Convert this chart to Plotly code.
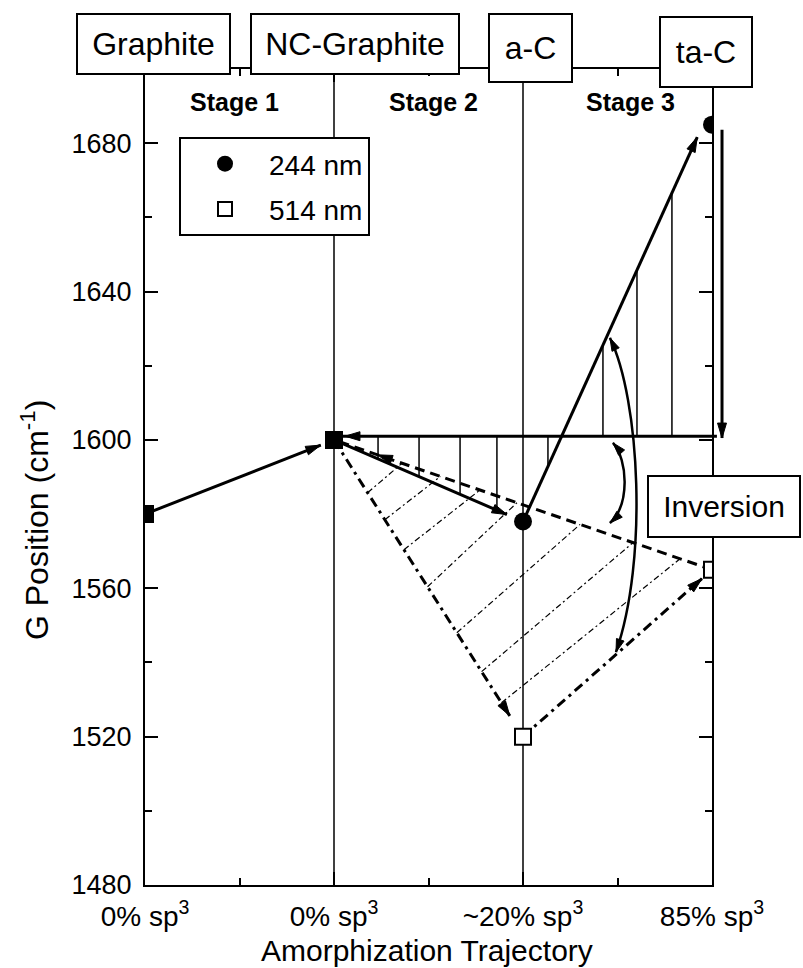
import numpy as np
import plotly.graph_objects as go

# ---------------- data ----------------
stage_pos = [0, 1, 2, 3]
stage_tick_text = ["0% sp<sup>3</sup>", "0% sp<sup>3</sup>", "~20% sp<sup>3</sup>", "85% sp<sup>3</sup>"]
phase_names = ["Graphite", "NC-Graphite", "a-C", "ta-C"]
stage_names = ["Stage 1", "Stage 2", "Stage 3"]
g_244 = [1580, 1600, 1578, 1685]   # G position, 244 nm excitation
g_514 = [1580, 1600, 1520, 1565]   # G position, 514 nm excitation
y_major = [1480, 1520, 1560, 1600, 1640, 1680]

# ---------------- geometry ----------------
W, H = 803, 968
ML, MR, MT, MB = 145, 91, 69, 83
X0, X1 = 0, 3
Y0, Y1 = 1480, 1700
PW, PH = W - ML - MR, H - MT - MB
SX, SY = PW / (X1 - X0), PH / (Y1 - Y0)
FONT = "Liberation Sans, Arial, Helvetica, sans-serif"


def to_px(x, y):
    return ML + (x - X0) * SX, MT + (Y1 - y) * SY


def px_to_data(px, py):
    return X0 + (px - ML) / SX, Y1 - (py - MT) / SY


def px_to_paper(px, py):
    return (px - ML) / PW, (MT + PH - py) / PH


def head(tip, frm, length=15, half=4.5, ref="data"):
    """Filled arrowhead whose point sits at tip, aligned with the line coming from frm."""
    tx, ty = to_px(*tip)
    fx, fy = to_px(*frm)
    d = np.hypot(tx - fx, ty - fy)
    ux, uy = (tx - fx) / d, (ty - fy) / d
    bx, by = tx - ux * length, ty - uy * length
    pts = [(tx, ty), (bx - uy * half, by + ux * half), (bx + uy * half, by - ux * half)]
    conv = px_to_data if ref == "data" else px_to_paper
    pts = [conv(*p) for p in pts]
    path = "M{:.5f},{:.5f} L{:.5f},{:.5f} L{:.5f},{:.5f} Z".format(*pts[0], *pts[1], *pts[2])
    r = ("x", "y") if ref == "data" else ("paper", "paper")
    return dict(type="path", path=path, xref=r[0], yref=r[1], fillcolor="black",
                line=dict(color="black", width=1), layer="above")


def along(p, q, f, lift=0.0):
    return (p[0] + f * (q[0] - p[0]), p[1] + f * (q[1] - p[1]) + lift)


fig = go.Figure()
shapes = []

# phase boundaries
for xv in (1, 2):
    shapes.append(dict(type="line", xref="x", yref="y", x0=xv, x1=xv, y0=Y0, y1=Y1,
                       line=dict(color="black", width=1.5), layer="below"))

P244 = list(zip(stage_pos, g_244))
P514 = list(zip(stage_pos, g_514))

# ---- 244 nm trajectory (solid arrows) ----
arrow_244 = []
for (a, b, f, lift) in [(P244[0], P244[1], 0.93, 0.0), (P244[1], P244[2], 0.915, 0.0),
                        (P244[2], P244[3], 0.922, 5.0)]:
    tip = along(a, b, f, lift)
    arrow_244.append((a, tip))
    fig.add_trace(go.Scatter(x=[a[0], tip[0]], y=[a[1], tip[1]], mode="lines",
                             line=dict(color="black", width=3), showlegend=False, hoverinfo="skip"))
    shapes.append(head(tip, a))

# polyline followed by the drawn 244 nm arrows (used for the hatching limits)
path_x = [P244[1][0], P244[2][0], arrow_244[2][1][0]]
path_y = [P244[1][1], P244[2][1], arrow_244[2][1][1]]

# level of the graphite G peak used as reference for the inversion
SHIFT_LEVEL = 1601

# stage 2 / stage 3 vertical hatching between the reference level and the 244 nm path
for xv in [1.233, 1.45, 1.667, 1.862, 2.132, 2.423, 2.603, 2.788]:
    shapes.append(dict(type="line", xref="x", yref="y", x0=xv, x1=xv, y0=SHIFT_LEVEL,
                       y1=float(np.interp(xv, path_x, path_y)),
                       line=dict(color="black", width=1.5), layer="below"))

# diagonal dash-dot hatching between the 514 nm paths
hatch_start = [0.178, 0.269, 0.370, 0.495, 0.650, 0.781, 0.886]
hatch_end_x = [1.36, 1.563, 1.772, 1.968, 2.302, 2.582, 2.831]
for t, xe in zip(hatch_start, hatch_end_x):
    s = along(P514[1], P514[2], t)
    ye = P514[1][1] + (xe - 1) / 2 * (P514[3][1] - P514[1][1])
    shapes.append(dict(type="line", xref="x", yref="y", x0=s[0], y0=s[1], x1=xe, y1=ye,
                       line=dict(color="black", width=1.2, dash="6px,3px,2px,3px"), layer="below"))

# ---- 514 nm trajectory ----
for (a, b, f) in [(P514[1], P514[2], 0.93), (P514[2], P514[3], 0.947)]:
    tip = along(a, b, f)
    fig.add_trace(go.Scatter(x=[a[0], tip[0]], y=[a[1], tip[1]], mode="lines",
                             line=dict(color="black", width=3, dash="10px,5px,3px,5px"),
                             showlegend=False, hoverinfo="skip"))
    shapes.append(head(tip, a))
# dashed return path ta-C -> NC-graphite
fig.add_trace(go.Scatter(x=[P514[3][0], P514[1][0]], y=[P514[3][1], P514[1][1]], mode="lines",
                         line=dict(color="black", width=3, dash="10px,6px"),
                         showlegend=False, hoverinfo="skip"))
shapes.append(head(along(P514[3], P514[1], 0.885), P514[3]))

# reference level line with arrow back to NC-graphite
h0 = px_to_paper(*to_px(3.026, SHIFT_LEVEL))
h1 = px_to_paper(*to_px(1.0, SHIFT_LEVEL))
shapes.append(dict(type="line", xref="paper", yref="paper", x0=h0[0], y0=h0[1], x1=h1[0], y1=h1[1],
                   line=dict(color="black", width=3), layer="above"))
shapes.append(head((1.058, SHIFT_LEVEL), (3.0, SHIFT_LEVEL), ref="paper"))

# vertical arrow down to the reference level at the right edge
v0 = px_to_paper(*to_px(3.053, 1683.6))
v1 = px_to_paper(*to_px(3.053, 1600.5))
shapes.append(dict(type="line", xref="paper", yref="paper", x0=v0[0], y0=v0[1], x1=v1[0], y1=v1[1],
                   line=dict(color="black", width=3), layer="above"))
shapes.append(head((3.053, 1600.5), (3.053, 1683.6), ref="paper"))

# curved double arrows marking the inversion
curves = [
    [(2.460, 1627.5), (2.619, 1610.8), (2.661, 1567.6), (2.492, 1542.8)],
    [(2.476, 1599.2), (2.556, 1594.6), (2.566, 1582.5), (2.460, 1577.6)],
]
for c in curves:
    path = "M{},{} C{},{} {},{} {},{}".format(*c[0], *c[1], *c[2], *c[3])
    shapes.append(dict(type="path", path=path, xref="x", yref="y",
                       line=dict(color="black", width=2.5), layer="above"))
    shapes.append(head(c[0], c[1], length=13, half=4))
    shapes.append(head(c[3], c[2], length=13, half=4))

# ---- data markers ----
fig.add_trace(go.Scatter(x=stage_pos, y=g_244, mode="markers",
                         marker=dict(symbol="circle", size=18, color="black"),
                         showlegend=False, hoverinfo="skip"))
fig.add_trace(go.Scatter(x=stage_pos, y=g_514, mode="markers",
                         marker=dict(symbol="square", size=16,
                                     color=["black", "black", "white", "white"],
                                     line=dict(color="black", width=2)),
                         showlegend=False, hoverinfo="skip"))

# legend entries
fig.add_trace(go.Scatter(x=[None], y=[None], mode="markers", name="244 nm", legendgroup="a",
                         marker=dict(symbol="circle", size=17, color="black")))
fig.add_trace(go.Scatter(x=[None], y=[None], mode="markers", name="514 nm", legendgroup="b",
                         marker=dict(symbol="square", size=14, color="white",
                                     line=dict(color="black", width=2))))

annotations = []


def box(text, cx, cy, w, h, size=32):
    x, y = px_to_paper(cx, cy)
    annotations.append(dict(text=text, x=x, y=y, xref="paper", yref="paper", showarrow=False,
                            xanchor="center", yanchor="middle", width=w, height=h,
                            bgcolor="white", bordercolor="black", borderwidth=2, borderpad=0,
                            font=dict(family=FONT, size=size, color="black")))


box_geo = [(153.5, 44, 151, 58), (355, 44, 206, 58), (530.5, 48, 81, 66), (706, 52, 90, 68)]
for name, (cx, cy, w, h) in zip(phase_names, box_geo):
    box(name, cx, cy, w, h)
box("Inversion", 724, 506.5, 150, 59, size=30)

for name, cx in zip(stage_names, [234, 433, 630]):
    x, y = px_to_paper(cx, 102)
    annotations.append(dict(text="<b>" + name + "</b>", x=x, y=y, xref="paper", yref="paper",
                            showarrow=False, xanchor="center", yanchor="middle",
                            font=dict(family=FONT, size=25, color="black")))

tx, ty = px_to_paper(35, 520)
annotations.append(dict(text="G Position (cm<sup>-1</sup>)", x=tx, y=ty, xref="paper", yref="paper",
                        showarrow=False, textangle=-90, xanchor="center", yanchor="middle",
                        font=dict(family=FONT, size=32, color="black")))
tx, ty = px_to_paper(427, 950)
annotations.append(dict(text="Amorphization Trajectory", x=tx, y=ty, xref="paper", yref="paper",
                        showarrow=False, xanchor="center", yanchor="middle",
                        font=dict(family=FONT, size=30, color="black")))

axis_common = dict(showgrid=False, zeroline=False, showline=True, linecolor="black", linewidth=2,
                   mirror="ticks", ticks="inside", ticklen=13, tickwidth=2, tickcolor="black")

# legend frame position
lg = px_to_paper(179, 137)

fig.update_layout(
    width=W, height=H,
    margin=dict(l=ML, r=MR, t=MT, b=MB, pad=0),
    paper_bgcolor="white", plot_bgcolor="white",
    font=dict(family=FONT, color="black"),
    shapes=shapes,
    annotations=annotations,
    showlegend=True,
    legend=dict(x=lg[0], y=lg[1], xanchor="left", yanchor="top",
                bgcolor="white", bordercolor="black", borderwidth=2,
                traceorder="grouped", tracegroupgap=6, itemwidth=78,
                font=dict(family=FONT, size=28, color="black")),
    xaxis=dict(range=[X0, X1], tickmode="array", tickvals=stage_pos, ticktext=stage_tick_text,
               tickfont=dict(family=FONT, size=28, color="black"), ticklabelstandoff=5,
               minor=dict(tickmode="array", tickvals=[0.5, 1.5, 2.5], ticks="inside", ticklen=7,
                          tickwidth=2, tickcolor="black"),
               **axis_common),
    yaxis=dict(range=[Y0, Y1], tickmode="array", tickvals=y_major,
               tickfont=dict(family=FONT, size=27, color="black"), ticklabelstandoff=6,
               minor=dict(tickmode="linear", tick0=1500, dtick=40, ticks="inside", ticklen=7,
                          tickwidth=2, tickcolor="black"),
               **axis_common),
)

fig.write_html("out.html")
